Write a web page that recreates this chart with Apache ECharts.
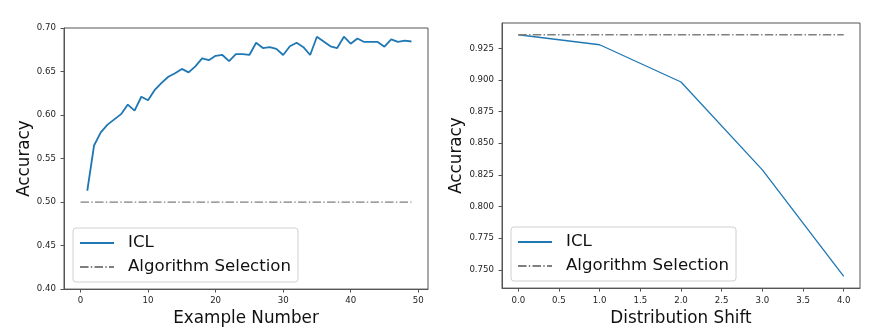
<!DOCTYPE html>
<html>
<head>
<meta charset="utf-8">
<script src="https://cdn.jsdelivr.net/npm/echarts@6/dist/echarts.min.js"></script>
<style>
html,body{margin:0;padding:0;background:#fff;}
#c{width:878px;height:332px;}
</style>
</head>
<body>
<div id="c"></div>
<script>
// ---- data ----
const exampleNumbers = [1,2,3,4,5,6,7,8,9,10,11,12,13,14,15,16,17,18,19,20,21,22,23,24,25,26,27,28,29,30,31,32,33,34,35,36,37,38,39,40,41,42,43,44,45,46,47,48,49];
const iclByExample = [0.513,0.565,0.580,0.589,0.595,0.601,0.612,0.605,0.621,0.617,0.629,0.637,0.644,0.648,0.653,0.649,0.656,0.665,0.663,0.668,0.669,0.662,0.670,0.670,0.669,0.683,0.677,0.678,0.676,0.669,0.679,0.683,0.678,0.669,0.690,0.6845,0.679,0.677,0.690,0.682,0.688,0.684,0.684,0.684,0.6785,0.687,0.684,0.6855,0.6845];
const algSelExampleX = [0, 49];
const algSelExampleY = [0.5, 0.5];

const shifts = [0, 1, 2, 3, 4];
const iclByShift = [0.9357, 0.9278, 0.8984, 0.8289, 0.7448];
const algSelByShift = [0.9357, 0.9357, 0.9357, 0.9357, 0.9357];

const leftXTicks = [0, 10, 20, 30, 40, 50];
const leftYTicks = [0.40, 0.45, 0.50, 0.55, 0.60, 0.65, 0.70];
const rightXTicks = [0, 0.5, 1, 1.5, 2, 2.5, 3, 3.5, 4];
const rightYTicks = [0.750, 0.775, 0.800, 0.825, 0.850, 0.875, 0.900, 0.925];

// ---- styles ----
const BLUE = '#1f77b4', GRAY = '#7f7f7f', AXIS = '#555';
const FONT = 'DejaVu Sans';
const dashDot = [8.5, 2.3, 1.4, 2.3];

function zip(a, b){ return a.map((v,i)=>[v, b[i]]); }

function axisCommon(ticks, fmt, margin){
  return {
    type: 'value',
    axisLine: {show: true, onZero: false, lineStyle: {color: AXIS, width: 1}},
    axisTick: {show: true, inside: false, length: 3.5, lineStyle: {color: AXIS}, customValues: ticks},
    axisLabel: {customValues: ticks, formatter: fmt, fontFamily: FONT, fontSize: 8.6, color: '#222', margin: margin},
    splitLine: {show: false}
  };
}

const legendCommon = {
  orient: 'vertical',
  itemWidth: 34, itemHeight: 14, itemGap: 6,
  padding: [6, 7, 6, 6],
  backgroundColor: '#fff',
  borderColor: '#d0d0d0', borderWidth: 1, borderRadius: 3,
  itemStyle: {opacity: 0},
  textStyle: {fontFamily: FONT, fontSize: 16.6, color: '#111', lineHeight: 18, padding: [0,0,0,9]},
  data: ['ICL', 'Algorithm Selection']
};

const option = {
  animation: false,
  backgroundColor: '#fff',
  grid: [
    {left: 64, top: 28, width: 364, height: 264, show: true, borderColor: AXIS, borderWidth: 1, backgroundColor: 'transparent'},
    {left: 502, top: 23, width: 358, height: 266, show: true, borderColor: AXIS, borderWidth: 1, backgroundColor: 'transparent'}
  ],
  xAxis: [
    Object.assign(axisCommon(leftXTicks, v => String(Math.round(v)), 7), {
      gridIndex: 0, min: -2.45, max: 51.45,
      name: 'Example Number', nameLocation: 'middle', nameGap: 19.5,
      nameTextStyle: {fontFamily: FONT, fontSize: 16.8, color: '#111'}
    }),
    Object.assign(axisCommon(rightXTicks, v => v.toFixed(1), 8), {
      gridIndex: 1, min: -0.2, max: 4.2,
      name: 'Distribution Shift', nameLocation: 'middle', nameGap: 20,
      nameTextStyle: {fontFamily: FONT, fontSize: 16.8, color: '#111'}
    })
  ],
  yAxis: [
    Object.assign(axisCommon(leftYTicks, v => v.toFixed(2), 8), {
      gridIndex: 0, min: 0.40, max: 0.70,
      name: 'Accuracy', nameLocation: 'middle', nameGap: 30,
      nameTextStyle: {fontFamily: FONT, fontSize: 16.8, color: '#111'}
    }),
    Object.assign(axisCommon(rightYTicks, v => v.toFixed(3), 8), {
      gridIndex: 1, min: 0.7355, max: 0.9450,
      name: 'Accuracy', nameLocation: 'middle', nameGap: 36,
      nameTextStyle: {fontFamily: FONT, fontSize: 16.8, color: '#111'}
    })
  ],
  legend: [
    Object.assign({}, legendCommon, {left: 73, top: 228}),
    Object.assign({}, legendCommon, {left: 511, top: 227})
  ],
  series: [
    {name: 'ICL', type: 'line', xAxisIndex: 0, yAxisIndex: 0, symbol: 'none',
     data: zip(exampleNumbers, iclByExample), lineStyle: {color: BLUE, width: 1.8}, itemStyle: {color: BLUE}},
    {name: 'Algorithm Selection', type: 'line', xAxisIndex: 0, yAxisIndex: 0, symbol: 'none',
     data: zip(algSelExampleX, algSelExampleY), lineStyle: {color: GRAY, width: 1.3, type: dashDot}, itemStyle: {color: GRAY}},
    {name: 'ICL', type: 'line', xAxisIndex: 1, yAxisIndex: 1, symbol: 'none',
     data: zip(shifts, iclByShift), lineStyle: {color: BLUE, width: 1.3}, itemStyle: {color: BLUE}},
    {name: 'Algorithm Selection', type: 'line', xAxisIndex: 1, yAxisIndex: 1, symbol: 'none',
     data: zip(shifts, algSelByShift), lineStyle: {color: GRAY, width: 1.3, type: dashDot}, itemStyle: {color: GRAY}}
  ]
};

const chart = echarts.init(document.getElementById('c'), null, {renderer: 'canvas'});
chart.setOption(option);
</script>
</body>
</html>
